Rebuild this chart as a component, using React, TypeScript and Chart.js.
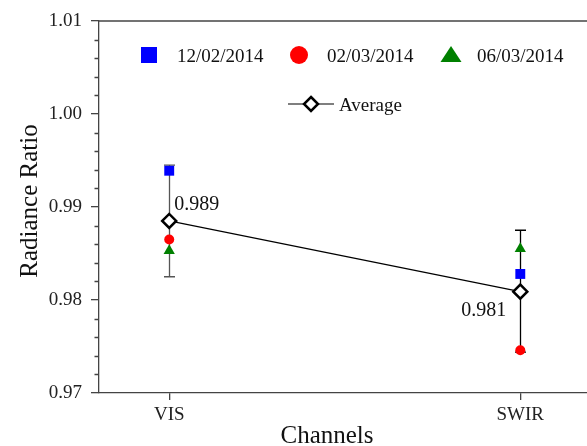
import { useEffect, useRef } from 'react';
import { Chart, registerables } from 'chart.js';

Chart.register(...registerables);

const FONT = "'Liberation Serif', 'Times New Roman', serif";

const channels = ['VIS', 'SWIR'];
const channelPos = [1, 2];
const dateLabels = ['12/02/2014', '02/03/2014', '06/03/2014'];
const series1 = [0.9939, 0.9828];
const series2 = [0.9865, 0.9746];
const series3 = [0.9853, 0.9855];
const average = [0.9885, 0.9809];
const averageLabels = ['0.989', '0.981'];
const errHigh = [0.9945, 0.9875];
const errLow = [0.9825, 0.9744];
const yMin = 0.97;
const yMax = 1.01;
const yStep = 0.01;
const yMinorStep = 0.002;

const colors = ['#0000ff', '#ff0000', '#008000'];

const toPts = (vals: number[]) => vals.map((v, i) => ({ x: channelPos[i], y: v }));

const overlay = {
  id: 'overlay',
  beforeDatasetsDraw(chart: any) {
    const ctx = chart.ctx;
    const xs = chart.scales.x;
    const ys = chart.scales.y;
    const barColors = ['#555', '#000'];
    ctx.save();
    channelPos.forEach((p, i) => {
      const x = Math.round(xs.getPixelForValue(p)) + 0.5;
      const y1 = ys.getPixelForValue(errHigh[i]);
      const y2 = ys.getPixelForValue(errLow[i]);
      ctx.strokeStyle = barColors[i];
      ctx.lineWidth = 1.3;
      ctx.beginPath();
      ctx.moveTo(x, y1);
      ctx.lineTo(x, y2);
      ctx.moveTo(x - 5.5, y1);
      ctx.lineTo(x + 5.5, y1);
      ctx.moveTo(x - 5.5, y2);
      ctx.lineTo(x + 5.5, y2);
      ctx.stroke();
    });
    ctx.restore();
  },
  afterDraw(chart: any) {
    const ctx = chart.ctx;
    const { left, right, top } = chart.chartArea;
    const xs = chart.scales.x;
    const ys = chart.scales.y;
    ctx.save();
    // top frame line
    ctx.strokeStyle = '#444';
    ctx.lineWidth = 1.3;
    ctx.beginPath();
    ctx.moveTo(left, top);
    ctx.lineTo(right, top);
    ctx.stroke();
    // minor ticks on y
    ctx.beginPath();
    const n = Math.round((yMax - yMin) / yMinorStep);
    for (let k = 0; k <= n; k++) {
      if (k % 5 === 0) continue;
      const y = Math.round(ys.getPixelForValue(yMin + k * yMinorStep)) + 0.5;
      ctx.moveTo(left - 4.5, y);
      ctx.lineTo(left, y);
    }
    ctx.stroke();

    // value labels
    ctx.fillStyle = '#111';
    ctx.font = `20px ${FONT}`;
    ctx.textBaseline = 'alphabetic';
    ctx.textAlign = 'left';
    const vx0 = xs.getPixelForValue(channelPos[0]);
    ctx.fillText(averageLabels[0], vx0 + 5, ys.getPixelForValue(average[0]) - 11);
    const vx1 = xs.getPixelForValue(channelPos[1]);
    ctx.textAlign = 'right';
    ctx.fillText(averageLabels[1], vx1 - 14, ys.getPixelForValue(average[1]) + 24);

    // legend
    ctx.textAlign = 'left';
    ctx.font = `19px ${FONT}`;
    ctx.fillStyle = '#111';
    const ly = 55;
    ctx.fillStyle = colors[0];
    ctx.fillRect(141, ly - 8, 16, 16);
    ctx.fillStyle = '#111';
    ctx.fillText(dateLabels[0], 177, ly + 7);
    ctx.fillStyle = colors[1];
    ctx.beginPath();
    ctx.arc(299, ly, 9, 0, Math.PI * 2);
    ctx.fill();
    ctx.fillStyle = '#111';
    ctx.fillText(dateLabels[1], 327, ly + 7);
    ctx.fillStyle = colors[2];
    ctx.beginPath();
    ctx.moveTo(451, ly - 9);
    ctx.lineTo(461.5, ly + 7);
    ctx.lineTo(440.5, ly + 7);
    ctx.closePath();
    ctx.fill();
    ctx.fillStyle = '#111';
    ctx.fillText(dateLabels[2], 477, ly + 7);
    const ay = 104;
    ctx.strokeStyle = '#000';
    ctx.lineWidth = 1.2;
    ctx.beginPath();
    ctx.moveTo(288, ay);
    ctx.lineTo(334, ay);
    ctx.stroke();
    ctx.fillStyle = '#fff';
    ctx.lineWidth = 2.5;
    ctx.beginPath();
    ctx.moveTo(311, ay - 7);
    ctx.lineTo(318, ay);
    ctx.lineTo(311, ay + 7);
    ctx.lineTo(304, ay);
    ctx.closePath();
    ctx.fill();
    ctx.stroke();
    ctx.fillStyle = '#111';
    ctx.fillText('Average', 339, ay + 7);

    // axis titles
    ctx.font = `25px ${FONT}`;
    ctx.textAlign = 'center';
    ctx.fillText('Channels', 327, 443);
    ctx.save();
    ctx.translate(37, 201);
    ctx.rotate(-Math.PI / 2);
    ctx.textBaseline = 'alphabetic';
    ctx.fillText('Radiance Ratio', 0, 0);
    ctx.restore();

    ctx.restore();
  },
};

export default function App() {
  const ref = useRef<HTMLCanvasElement | null>(null);
  useEffect(() => {
    document.body.style.margin = '0';
    if (!ref.current) return;
    const chart = new Chart(ref.current, {
      type: 'line',
      data: {
        datasets: [
          {
            label: 'Average',
            data: toPts(average),
            showLine: true,
            borderColor: '#000',
            borderWidth: 1.2,
            pointStyle: 'rectRot',
            pointRadius: 7,
            pointBackgroundColor: '#fff',
            pointBorderColor: '#000',
            pointBorderWidth: 2.5,
            order: 4,
          },
          {
            label: dateLabels[0],
            data: toPts(series1),
            showLine: false,
            pointStyle: 'rect',
            pointRadius: 7,
            pointBackgroundColor: colors[0],
            pointBorderWidth: 0,
            order: 1,
          },
          {
            label: dateLabels[1],
            data: toPts(series2),
            showLine: false,
            pointStyle: 'circle',
            pointRadius: 5,
            pointBackgroundColor: colors[1],
            pointBorderWidth: 0,
            order: 2,
          },
          {
            label: dateLabels[2],
            data: toPts(series3),
            showLine: false,
            pointStyle: 'triangle',
            pointRadius: 6.5,
            pointBackgroundColor: colors[2],
            pointBorderWidth: 0,
            order: 3,
          },
        ],
      },
      options: {
        responsive: false,
        animation: false,
        devicePixelRatio: 1,
        layout: { autoPadding: false, padding: { top: 21, right: 0, left: 0, bottom: 0 } },
        plugins: { legend: { display: false }, tooltip: { enabled: false } },
        scales: {
          x: {
            type: 'linear',
            min: 0.8,
            max: 2.19,
            afterBuildTicks: (scale: any) => {
              scale.ticks = channelPos.map((v) => ({ value: v }));
            },
            afterFit: (scale: any) => {
              scale.height = 53;
            },
            ticks: {
              callback: (v: any) => channels[channelPos.indexOf(Number(v))] ?? '',
              font: { family: FONT, size: 19 },
              color: '#222',
              padding: 4,
              maxRotation: 0,
            },
            grid: {
              display: true,
              drawOnChartArea: false,
              drawTicks: true,
              tickLength: 7,
              color: '#444',
              lineWidth: 1.3,
            },
            border: { display: true, color: '#444', width: 1.3 },
          },
          y: {
            type: 'linear',
            min: yMin,
            max: yMax,
            afterFit: (scale: any) => {
              scale.width = 99;
            },
            ticks: {
              stepSize: yStep,
              callback: (v: any) => Number(v).toFixed(2),
              font: { family: FONT, size: 19 },
              color: '#222',
              padding: 9,
            },
            grid: {
              display: true,
              drawOnChartArea: false,
              drawTicks: true,
              tickLength: 8,
              color: '#444',
              lineWidth: 1.3,
            },
            border: { display: true, color: '#444', width: 1.3 },
          },
        },
      },
      plugins: [overlay],
    });
    return () => chart.destroy();
  }, []);
  return (
    <div style={{ width: 587, height: 446 }}>
      <canvas ref={ref} width={587} height={446} />
    </div>
  );
}
